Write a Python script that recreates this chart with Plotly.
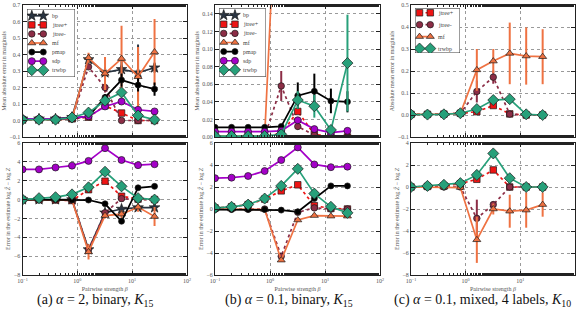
import plotly.graph_objects as go

# ---------------- data ----------------
beta = [0.1, 0.2, 0.4, 0.8, 1.6, 3.2, 6.4, 12.8, 25.6]
names_ab = ["bp", "jtree+", "jtree-", "mf", "pmap", "sdp", "trwbp"]
names_c = ["jtree+", "jtree-", "mf", "trwbp"]
Z = [0, 0, 0, 0, 0, 0, 0, 0, 0]

# (a) top: mean absolute error in marginals
a_top_bp = [0.010, 0.010, 0.010, 0.020, 0.370, 0.290, 0.310, 0.290, 0.320]
a_top_bp_err = [0, 0, 0, 0, 0.02, 0.03, 0.05, 0.17, 0.03]
a_top_jtp = [0.005, 0.005, 0.005, 0.010, 0.020, 0.090, 0.045, 0.000, 0.000]
a_top_jtm = [0.005, 0.005, 0.005, 0.010, 0.325, 0.200, 0.000, 0.000, 0.000]
a_top_jtm_err = [0, 0, 0, 0, 0.01, 0.03, 0, 0, 0]
a_top_mf = [0.005, 0.005, 0.005, 0.010, 0.380, 0.285, 0.375, 0.265, 0.415]
a_top_mf_err = [0, 0, 0, 0, 0.03, 0.10, 0.20, 0.18, 0.20]
a_top_pmap = [0.010, 0.010, 0.010, 0.015, 0.025, 0.140, 0.245, 0.215, 0.190]
a_top_pmap_err = [0, 0, 0, 0, 0, 0.02, 0.04, 0.04, 0.04]
a_top_sdp = [0.010, 0.010, 0.010, 0.015, 0.025, 0.085, 0.115, 0.065, 0.055]
a_top_trw = [0.005, 0.005, 0.005, 0.018, 0.048, 0.120, 0.170, 0.030, 0.005]
a_top_trw_err = [0, 0, 0, 0, 0, 0.02, 0.02, 0, 0]

# (a) bottom: error in log Z
a_bot_bp = [0.0, 0.0, 0.0, 0.0, -5.3, -1.4, -1.0, -0.85, -0.85]
a_bot_jtp = [0.0, 0.0, -0.05, -0.1, 1.05, 1.95, 0.35, 0.05, 0.0]
a_bot_jtm = [0.0, 0.0, 0.0, -0.05, -5.3, -1.4, 0.1, 0.0, 0.0]
a_bot_mf = [0.0, 0.0, 0.0, -0.05, -5.55, -1.7, -1.55, -0.8, -1.8]
a_bot_mf_err = [0, 0, 0, 0, 0.8, 0.3, 0.4, 0.5, 1.0]
a_bot_pmap = [0.0, 0.0, 0.0, -0.05, -0.05, -0.45, -2.3, 1.25, 1.4]
a_bot_pmap_err = [0, 0, 0, 0, 0, 0, 0.3, 0, 0]
a_bot_sdp = [3.2, 3.2, 3.4, 3.6, 4.1, 5.45, 4.2, 3.65, 3.75]
a_bot_trw = [0.0, 0.15, 0.25, 0.55, 1.3, 2.95, 1.4, 0.15, 0.0]

# (b) top  (bp is listed in the legend but has no visible curve)
b_top_jtp = [0.0005, 0.0005, 0.0005, 0.0005, 0.004, 0.029, 0.003, 0.0, 0.0]
b_top_jtm = [0.0005, 0.0005, 0.0005, 0.0005, 0.058, 0.012, 0.002, 0.0, 0.0]
b_top_jtm_err = [0, 0, 0, 0, 0.017, 0.004, 0, 0, 0]
b_top_mf = [0.001, 0.001, 0.001, 0.001, 0.40, 0.35, 0.35, 0.33, 0.33]
b_top_pmap = [0.011, 0.011, 0.011, 0.011, 0.012, 0.047, 0.052, 0.041, 0.040]
b_top_pmap_err = [0, 0, 0, 0, 0, 0.015, 0.02, 0.014, 0.012]
b_top_sdp = [0.006, 0.006, 0.006, 0.006, 0.007, 0.019, 0.009, 0.005, 0.007]
b_top_trw = [0.001, 0.001, 0.001, 0.001, 0.003, 0.042, 0.035, 0.008, 0.084]
b_top_trw_err = [0, 0, 0, 0, 0, 0.01, 0.013, 0, 0.055]

# (b) bottom
b_bot_jtp = [0.1, 0.2, 0.4, 0.9, 1.65, 2.2, 0.3, 0.05, 0.0]
b_bot_jtm = [0.0, 0.0, 0.0, 0.0, -4.3, -0.3, 0.1, 0.0, 0.0]
b_bot_mf = [0.0, 0.0, 0.0, -0.05, -4.65, -1.0, -0.6, -0.65, -0.65]
b_bot_pmap = [-0.05, -0.05, -0.05, -0.05, -0.1, -0.25, 0.95, 2.1, 2.1]
b_bot_sdp = [2.8, 2.85, 3.0, 3.45, 4.45, 5.6, 4.05, 3.8, 3.85]
b_bot_trw = [0.1, 0.2, 0.4, 0.95, 2.1, 3.65, 1.4, 0.2, -0.35]

# (c) top
c_top_jtp = [0.003, 0.003, 0.004, 0.008, 0.015, 0.043, 0.005, 0.0, 0.0]
c_top_jtm = [0.003, 0.003, 0.004, 0.008, 0.107, 0.172, 0.004, 0.0, 0.0]
c_top_jtm_err = [0, 0, 0, 0, 0.05, 0.03, 0, 0, 0]
c_top_mf = [0.003, 0.003, 0.004, 0.008, 0.205, 0.245, 0.280, 0.268, 0.265]
c_top_mf_err = [0, 0, 0, 0, 0.095, 0.055, 0.14, 0.13, 0.125]
c_top_trw = [0.002, 0.002, 0.003, 0.008, 0.027, 0.068, 0.072, 0.003, 0.0]

# (c) bottom
c_bot_jtp = [0.0, 0.05, 0.1, 0.3, 0.7, 1.55, 0.0, 0.0, 0.0]
c_bot_jtm = [0.0, 0.0, 0.0, 0.0, -2.85, -1.6, 0.0, 0.0, 0.0]
c_bot_jtm_err = [0, 0, 0, 0, 1.7, 0.3, 0, 0, 0]
c_bot_mf = [0.0, 0.0, 0.0, -0.05, -4.8, -2.0, -2.2, -2.1, -1.6]
c_bot_mf_err = [0, 0, 0, 0, 2.1, 0.5, 1.5, 1.6, 1.1]
c_bot_trw = [0.0, 0.1, 0.2, 0.35, 1.1, 3.05, 0.8, 0.0, 0.0]

captions = ["(a) <i>α</i> = 2, binary, <i>K</i><sub>15</sub>",
            "(b) <i>α</i> = 0.1, binary, <i>K</i><sub>15</sub>",
            "(c) <i>α</i> = 0.1, mixed, 4 labels, <i>K</i><sub>10</sub>"]

# ---------------- styles ----------------
STYLE = {
    "bp": dict(color="#2a3441", symbol="star", dash="solid", size=8),
    "jtree+": dict(color="#ee1414", symbol="square", dash="dot", size=6.5),
    "jtree-": dict(color="#8c2d46", symbol="circle", dash="dot", size=6.5),
    "mf": dict(color="#ef7242", symbol="triangle-up", dash="solid", size=7),
    "pmap": dict(color="#000000", symbol="circle", dash="solid", size=6),
    "sdp": dict(color="#a400c8", symbol="circle", dash="solid", size=7),
    "trwbp": dict(color="#27a07a", symbol="diamond", dash="solid", size=8.5),
}

W, H = 579, 313
SERIF = "Liberation Serif, Times New Roman, serif"


def px_x(v):
    return v / W


def px_y(v):
    return 1 - v / H


XD = [(22.5, 187), (215, 380), (411, 575)]
TOPY = (5, 137)
BOTY = (143, 275)
LEG = [(27, 75, 9, 77), (219, 266, 8.3, 76.7), (415, 460, 8.3, 53)]

panels = [
    ({"bp": (a_top_bp, a_top_bp_err), "jtree+": (a_top_jtp, Z), "jtree-": (a_top_jtm, a_top_jtm_err),
      "mf": (a_top_mf, a_top_mf_err), "pmap": (a_top_pmap, a_top_pmap_err), "sdp": (a_top_sdp, Z),
      "trwbp": (a_top_trw, a_top_trw_err)},
     {"bp": (a_bot_bp, Z), "jtree+": (a_bot_jtp, Z), "jtree-": (a_bot_jtm, Z),
      "mf": (a_bot_mf, a_bot_mf_err), "pmap": (a_bot_pmap, a_bot_pmap_err), "sdp": (a_bot_sdp, Z),
      "trwbp": (a_bot_trw, Z)}, names_ab),
    ({"jtree+": (b_top_jtp, Z), "jtree-": (b_top_jtm, b_top_jtm_err),
      "mf": (b_top_mf, Z), "pmap": (b_top_pmap, b_top_pmap_err), "sdp": (b_top_sdp, Z),
      "trwbp": (b_top_trw, b_top_trw_err)},
     {"jtree+": (b_bot_jtp, Z), "jtree-": (b_bot_jtm, Z),
      "mf": (b_bot_mf, Z), "pmap": (b_bot_pmap, Z), "sdp": (b_bot_sdp, Z),
      "trwbp": (b_bot_trw, Z)}, names_ab),
    ({"jtree+": (c_top_jtp, Z), "jtree-": (c_top_jtm, c_top_jtm_err),
      "mf": (c_top_mf, c_top_mf_err), "trwbp": (c_top_trw, Z)},
     {"jtree+": (c_bot_jtp, Z), "jtree-": (c_bot_jtm, c_bot_jtm_err),
      "mf": (c_bot_mf, c_bot_mf_err), "trwbp": (c_bot_trw, Z)}, names_c),
]

top_ranges = [(-0.1, 0.7), (0.0, 0.15), (-0.1, 0.5)]
top_ticks = [[-0.1, 0, 0.1, 0.2, 0.3, 0.4, 0.5, 0.6, 0.7],
             [0, 0.02, 0.04, 0.06, 0.08, 0.10, 0.12, 0.14],
             [-0.1, 0, 0.1, 0.2, 0.3, 0.4, 0.5]]
top_fmt = ["{:.1f}", "{:.2f}", "{:.1f}"]
bot_ranges = [(-8, 6), (-6, 6), (-8, 4)]
top_titles = ["Mean absolute error in marginals", "Mean absolute error in marginals",
              "Absolute mean error in marginals"]
bot_title = "Error in the estimate log <i>Ẑ</i> − log <i>Z</i>"

fig = go.Figure()


def trace(x, y, err, name, xa, ya):
    st = STYLE[name]
    kw = {}
    if any(e > 0 for e in err):
        kw["error_y"] = dict(type="data", array=err, color=st["color"], thickness=2, width=0)
    return go.Scatter(
        x=x, y=y, mode="lines+markers", name=name, showlegend=False,
        xaxis=xa, yaxis=ya,
        line=dict(color=st["color"], width=1.7, dash=st["dash"]),
        marker=dict(symbol=st["symbol"], size=st["size"], color=st["color"],
                    line=dict(color="#1a1a1a", width=0.7)),
        **kw)


def minus(s):
    return s.replace("-", "−")


layout = dict(width=W, height=H, margin=dict(l=0, r=0, t=0, b=0),
              paper_bgcolor="white", plot_bgcolor="white", showlegend=False,
              font=dict(family=SERIF, color="#444"))
shapes = []
annotations = []

tick_font = dict(size=6, family=SERIF, color="#555")
xtickvals = [0.1, 1, 10, 100]
xticktext = ["10<sup>−1</sup>", "10<sup>0</sup>", "10<sup>1</sup>", "10<sup>2</sup>"]

for p, (top, bot, names) in enumerate(panels):
    for row, (series, yr) in enumerate([(top, TOPY), (bot, BOTY)]):
        idx = p + 1 + 3 * row
        xa = "x" if idx == 1 else f"x{idx}"
        ya = "y" if idx == 1 else f"y{idx}"
        for nm in names:
            if nm not in series:
                continue
            y, e = series[nm]
            fig.add_trace(trace(beta, y, e, nm, xa, ya))
        xkey = "xaxis" if idx == 1 else f"xaxis{idx}"
        ykey = "yaxis" if idx == 1 else f"yaxis{idx}"
        layout[xkey] = dict(
            domain=[px_x(XD[p][0]), px_x(XD[p][1])], anchor=ya, type="log", range=[-1, 2],
            tickmode="array", tickvals=xtickvals, ticktext=xticktext, showticklabels=(row == 1),
            ticks="inside", ticklen=4, tickwidth=0.8, tickcolor="#222", mirror="ticks",
            showline=True, linecolor="#222", linewidth=1,
            showgrid=True, gridcolor="#9a9a9a", gridwidth=0.6, griddash="dot",
            zeroline=False, tickfont=tick_font, automargin=False,
            minor=dict(ticks="inside", ticklen=2, tickwidth=0.6, tickcolor="#222",
                       showgrid=False, gridcolor="rgba(0,0,0,0)"),
            title=dict(text="Pairwise strength <i>β</i>" if row == 1 else "",
                       font=dict(size=6, family=SERIF, color="#555"), standoff=3),
        )
        if row == 0:
            lo, hi = top_ranges[p]
            tv = top_ticks[p]
            tt = [minus(top_fmt[p].format(v)) for v in tv]
            ttl = top_titles[p]
        else:
            lo, hi = bot_ranges[p]
            tv = list(range(lo, hi + 1, 2))
            tt = [minus(str(v)) for v in tv]
            ttl = bot_title
        layout[ykey] = dict(
            domain=[px_y(yr[1]), px_y(yr[0])], anchor=xa, range=[lo, hi],
            tickmode="array", tickvals=tv, ticktext=tt,
            ticks="inside", ticklen=4, tickwidth=0.8, tickcolor="#222", mirror="ticks",
            showline=True, linecolor="#222", linewidth=1,
            showgrid=True, gridcolor="#9a9a9a", gridwidth=0.6, griddash="dot",
            zeroline=False, tickfont=tick_font, automargin=False,
            title=dict(text=ttl, font=dict(size=6, family=SERIF, color="#555"), standoff=2),
        )

    # ----- legend built on its own small axes -----
    li = 7 + p
    lx, ly = f"x{li}", f"y{li}"
    x0, x1, y0, y1 = LEG[p]
    layout[f"xaxis{li}"] = dict(domain=[px_x(x0), px_x(x1)], range=[0, 1], visible=False,
                               anchor=ly, fixedrange=True)
    layout[f"yaxis{li}"] = dict(domain=[px_y(y1), px_y(y0)], range=[0, 1], visible=False,
                               anchor=lx, fixedrange=True)
    shapes.append(dict(type="rect", xref=lx, yref=ly, x0=0, x1=1, y0=0, y1=1,
                       fillcolor="white", line=dict(color="#222", width=0.9), layer="between"))
    n = len(names)
    pad = 0.1
    step = (1 - 2 * pad) / (n - 1)
    for i, nm in enumerate(names):
        yy = 1 - pad - i * step
        st = STYLE[nm]
        fig.add_trace(go.Scatter(
            x=[0.1, 0.34], y=[yy, yy], mode="lines+markers", xaxis=lx, yaxis=ly,
            showlegend=False, hoverinfo="skip",
            line=dict(color=st["color"], width=1.7, dash=st["dash"]),
            marker=dict(symbol=st["symbol"], size=st["size"], color=st["color"],
                        line=dict(color="#1a1a1a", width=0.7))))
        annotations.append(dict(xref=lx, yref=ly, x=0.47, y=yy, text=nm, showarrow=False,
                                xanchor="left", yanchor="middle",
                                font=dict(size=6, family=SERIF, color="#444")))

# captions
cap_x = [95, 289, 482]
for p in range(3):
    annotations.append(dict(xref="paper", yref="paper", x=px_x(cap_x[p]), y=px_y(300),
                            text=captions[p], showarrow=False, xanchor="center",
                            yanchor="middle", font=dict(size=14, family=SERIF, color="#111")))

layout["shapes"] = shapes
layout["annotations"] = annotations
fig.update_layout(**layout)
fig.write_html("out.html")
